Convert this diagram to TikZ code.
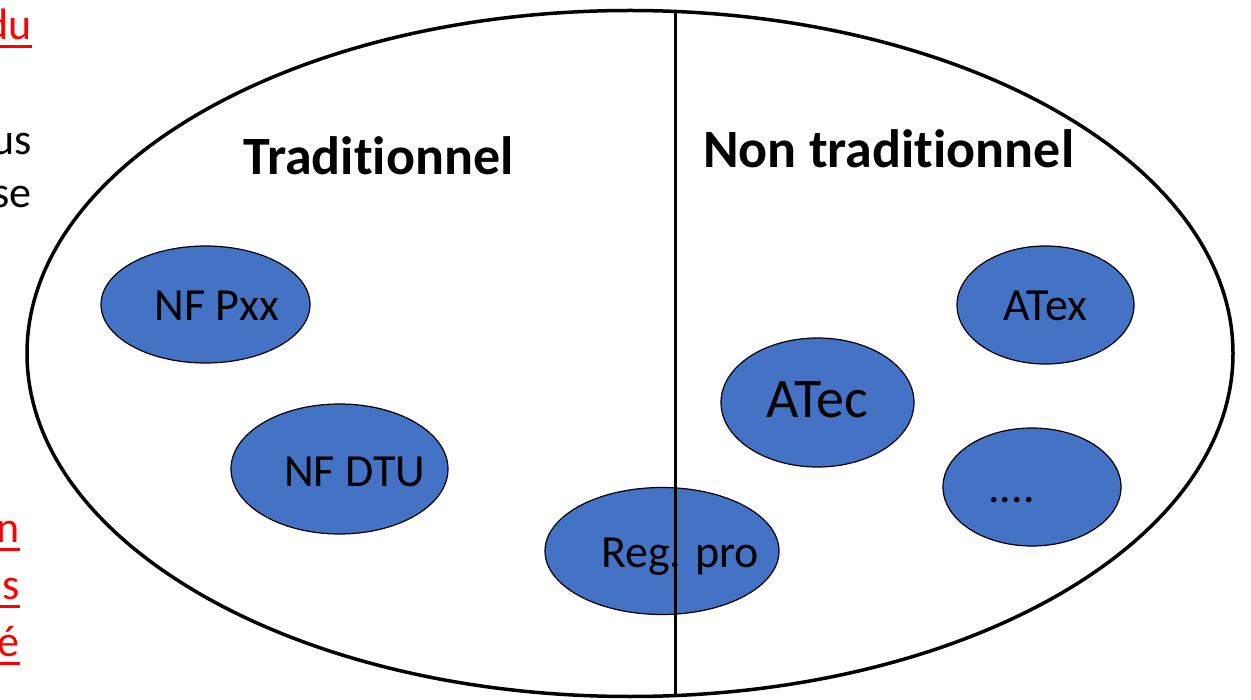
\documentclass[tikz,border=0pt]{standalone}
\usepackage{fontspec}
\setmainfont{Carlito}[Ligatures={NoCommon}]
\usetikzlibrary{shapes.geometric}
\definecolor{bleubulle}{HTML}{4472C4}
\begin{document}
\begin{tikzpicture}[x=1pt,y=-1pt,
    bulle/.style={ellipse,draw=black,line width=1.2pt,fill=bleubulle,inner sep=0pt},
    etiq/.style={anchor=base,inner sep=0pt,font=\fontsize{46}{50}\selectfont},
    titre/.style={anchor=base west,inner sep=0pt,font=\fontsize{54}{60}\selectfont\bfseries},
    bord/.style={anchor=base east,inner sep=0pt,font=\fontsize{44}{48}\selectfont},
    soul/.style={red,line width=3pt}]
  \useasboundingbox (0,0) rectangle (1251,700);
  % texte du bord gauche
  \node[bord,text=red] (du) at (32,40) {du};
  \node[bord] (us) at (32,155) {us};
  \node[bord] (se) at (32,208) {se};
  \node[bord,text=red] (n) at (20,542) {n};
  \node[bord,text=red] (s) at (20,599) {s};
  \node[bord,text=red] (e) at (20,656) {é};
  \foreach \m in {du,n,s,e}
    \draw[soul] ([yshift=-7pt]\m.base east) -- ++(-40,0);
  % grande ellipse
  \node[ellipse,draw,line width=3.5pt,minimum width=1206pt,minimum height=686pt,inner sep=0pt] (cadre) at (630,353.5) {};
  \node[titre] (trad) at (243,175) {Traditionnel};
  \node[titre] (nontrad) at (703,168) {Non traditionnel};
  % bulles
  \node[bulle,minimum width=209pt,minimum height=117pt] (pxx) at (205.5,304.5) {};
  \node[bulle,minimum width=217pt,minimum height=130pt] (dtu) at (339.5,469) {};
  \node[bulle,minimum width=234pt,minimum height=127pt] (reg) at (662,551) {};
  \node[bulle,minimum width=193pt,minimum height=129pt] (atec) at (817.5,402.5) {};
  \node[bulle,minimum width=177pt,minimum height=118pt] (atex) at (1045.5,305) {};
  \node[bulle,minimum width=178pt,minimum height=118pt] (autres) at (1032,487) {};
  \node[etiq] (tpxx) at (217,321) {NF Pxx};
  \node[etiq] (tdtu) at (354.5,486) {NF DTU};
  \node[etiq] (treg) at (680,567) {Reg. pro};
  \node[etiq,font=\fontsize{56}{60}\selectfont] (tatec) at (817,418) {ATec};
  \node[etiq] (tatex) at (1045.5,321) {ATex};
  \node[etiq] (tautres) at (1011.5,503) {....};
  % separation
  \coordinate (haut) at (675,10);
  \coordinate (bas) at (675,697);
  \draw[line width=3pt] (haut) -- (bas);
\end{tikzpicture}
\end{document}
